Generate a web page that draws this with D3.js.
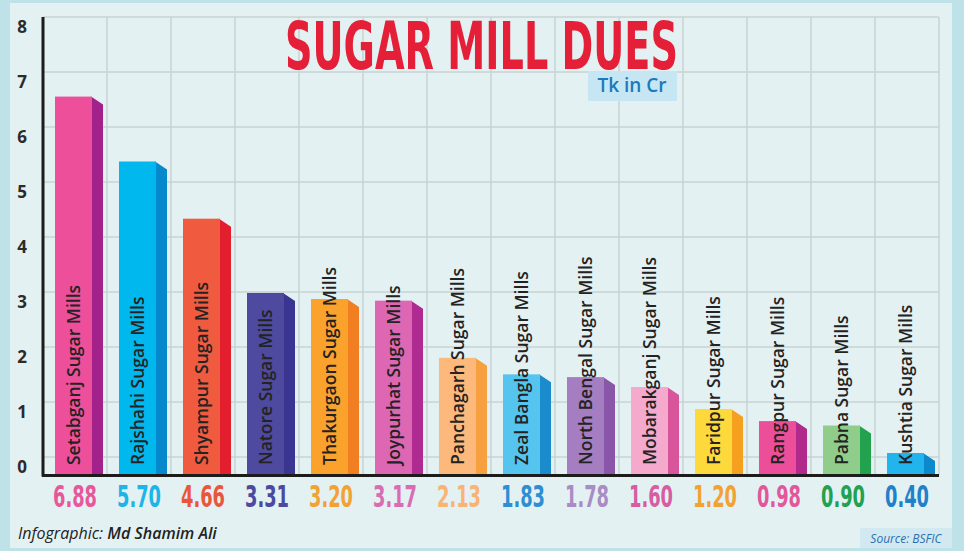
<!DOCTYPE html>
<html>
<head>
<meta charset="utf-8">
<script src="https://cdn.jsdelivr.net/npm/d3@7"></script>
<style>
  body { margin: 0; background: #bfe2e9; }
  svg { display: block; }
</style>
</head>
<body>
<svg></svg>
<script>
// Data read from the infographic (Tk in Cr)
var mills = ["Setabganj", "Rajshahi", "Shyampur", "Natore", "Thakurgaon", "Joypurhat", "Panchagarh",
             "Zeal Bangla", "North Bengal", "Mobarakganj", "Faridpur", "Rangpur", "Pabna", "Kushtia"];
var dues = [6.88, 5.70, 4.66, 3.31, 3.20, 3.17, 2.13, 1.83, 1.78, 1.60, 1.20, 0.98, 0.90, 0.40];
var yTicks = [0, 1, 2, 3, 4, 5, 6, 7, 8];

var frontColors = ["#ee4f9b", "#00b8ee", "#f05a3f", "#4e4a9f", "#faa22b", "#de67b4", "#fcb97b",
                   "#55c5ef", "#a57dc1", "#f4a9cd", "#fed93b", "#ed4e99", "#90cd8b", "#22b5ed"];
var sideColors = ["#a2218b", "#0689cc", "#e31f2f", "#393591", "#f17f21", "#b02b91", "#f7a03f",
                  "#1a8ccd", "#8a56a9", "#d8559b", "#f5a11f", "#b0298b", "#22a24f", "#0c88cd"];
var valueColors = ["#e9579b", "#1db4e7", "#ea553d", "#4a4aa0", "#f2a233", "#d96cb3", "#f8b375",
                   "#2d8fd2", "#a98bc5", "#d75da3", "#f2a233", "#e2579b", "#21a152", "#2180c9"];

var svg = d3.select("svg"),
    width = 964,
    height = 551;

svg.attr("width", width).attr("height", height);

//Background panel
svg.append("rect").attr("width", width).attr("height", height).attr("fill", "#bfe2e9");
svg.append("rect").attr("x", 10).attr("y", 3).attr("width", 942).attr("height", 545).attr("fill", "#e3f1f2");

var x = d3.scaleBand().domain(mills).range([43, 939]).padding(0);
var y = d3.scaleLinear().domain([0, 8]).range([475, 35]);

var g = svg.append("g");

//Grid - horizontal lines sit a little above each tick value in the original
g.selectAll(".hgrid")
  .data(yTicks)
  .enter().append("line")
    .attr("class", "hgrid")
    .attr("x1", 43).attr("x2", 939)
    .attr("y1", function(d) { return y(d) - 18; })
    .attr("y2", function(d) { return y(d) - 18; })
    .attr("stroke", "#c9d2d3").attr("stroke-width", 1.5);

g.selectAll(".vgrid")
  .data(mills.concat(["end"]))
  .enter().append("line")
    .attr("class", "vgrid")
    .attr("x1", function(d) { return d == "end" ? 939 : x(d); })
    .attr("x2", function(d) { return d == "end" ? 939 : x(d); })
    .attr("y1", y(8) - 18).attr("y2", y(0))
    .attr("stroke", "#c9d2d3").attr("stroke-width", 1.5);

//Y axis labels
var yAxis = g.append("g")
  .attr("transform", "translate(43,0)")
  .call(d3.axisLeft(y).tickValues(yTicks).tickSize(0).tickFormat(d3.format("d")));
yAxis.select(".domain").remove();
yAxis.selectAll("text")
  .attr("x", -21).attr("dy", "-0.12em")
  .style("text-anchor", "middle")
  .style("font-family", "'Open Sans', sans-serif")
  .style("font-weight", 700)
  .style("font-size", "17px")
  .attr("fill", "#2b2b2b");

var data = mills.map(function(m, i) { return {name: m, value: dues[i], i: i}; });

//Bars: front face + slanted side
var bars = g.selectAll(".bar")
  .data(data)
  .enter().append("g")
    .attr("class", "bar");

bars.append("polygon")
  .attr("points", function(d) {
    var x0 = x(d.name), top = y(d.value);
    return [[x0 + 48, top], [x0 + 60, top + 8], [x0 + 60, y(0)], [x0 + 48, y(0)]].join(" ");
  })
  .attr("fill", function(d) { return sideColors[d.i]; });

bars.append("rect")
  .attr("x", function(d) { return x(d.name) + 12; })
  .attr("y", function(d) { return y(d.value); })
  .attr("width", 37)
  .attr("height", function(d) { return y(0) - y(d.value); })
  .attr("fill", function(d) { return frontColors[d.i]; });

//Mill names, rotated
bars.append("text")
  .attr("transform", function(d) { return "translate(" + (x(d.name) + 31) + ",465) rotate(-90)"; })
  .attr("dy", "0.36em")
  .style("font-family", "'Open Sans', sans-serif")
  .style("font-weight", 600)
  .style("font-size", "17.5px")
  .attr("fill", "#232323")
  .text(function(d) { return d.name + " Sugar Mills"; });

//Axis lines
g.append("line").attr("x1", 43).attr("x2", 43).attr("y1", 17).attr("y2", 476.5)
  .attr("stroke", "#1c1c1c").attr("stroke-width", 3);
g.append("line").attr("x1", 42).attr("x2", 939).attr("y1", 475.5).attr("y2", 475.5)
  .attr("stroke", "#1c1c1c").attr("stroke-width", 3);

//Value labels - condensed look
g.selectAll(".value")
  .data(data)
  .enter().append("text")
    .attr("class", "value")
    .attr("x", function(d) { return x(d.name) + 10; })
    .attr("y", 507)
    .attr("textLength", 44).attr("lengthAdjust", "spacingAndGlyphs")
    .style("font-family", "'DejaVu Sans Condensed', 'Liberation Sans', sans-serif")
    .style("font-weight", 700)
    .style("font-size", "30px")
    .attr("fill", function(d) { return valueColors[d.i]; })
    .text(function(d) { return d3.format(".2f")(d.value); });

//Title
svg.append("text")
  .attr("x", 285).attr("y", 69)
  .attr("textLength", 393).attr("lengthAdjust", "spacingAndGlyphs")
  .style("font-family", "'DejaVu Sans Condensed', 'Liberation Sans', sans-serif")
  .style("font-weight", 700)
  .style("font-size", "66px")
  .attr("fill", "#e41f37")
  .text("SUGAR MILL DUES");

svg.append("rect").attr("x", 588).attr("y", 71).attr("width", 89).attr("height", 30).attr("fill", "#c6e6f3");
svg.append("text")
  .attr("x", 632).attr("y", 92)
  .attr("text-anchor", "middle")
  .style("font-family", "'Open Sans', sans-serif")
  .style("font-weight", 600)
  .style("font-size", "19px")
  .attr("fill", "#1b79bd")
  .text("Tk in Cr");

//Footer
var credit = svg.append("text")
  .attr("x", 18).attr("y", 539)
  .style("font-family", "'Open Sans', sans-serif")
  .style("font-style", "italic")
  .style("font-size", "16px")
  .attr("fill", "#222");
credit.append("tspan").text("Infographic: ");
credit.append("tspan").style("font-weight", 600).text("Md Shamim Ali");

svg.append("rect").attr("x", 860).attr("y", 528).attr("width", 92).attr("height", 20).attr("fill", "#d2e9f1");
svg.append("text")
  .attr("x", 906).attr("y", 543)
  .attr("text-anchor", "middle")
  .style("font-family", "'Open Sans', sans-serif")
  .style("font-style", "italic")
  .style("font-size", "12px")
  .attr("fill", "#2b6eb0")
  .text("Source: BSFIC");
</script>
</body>
</html>
